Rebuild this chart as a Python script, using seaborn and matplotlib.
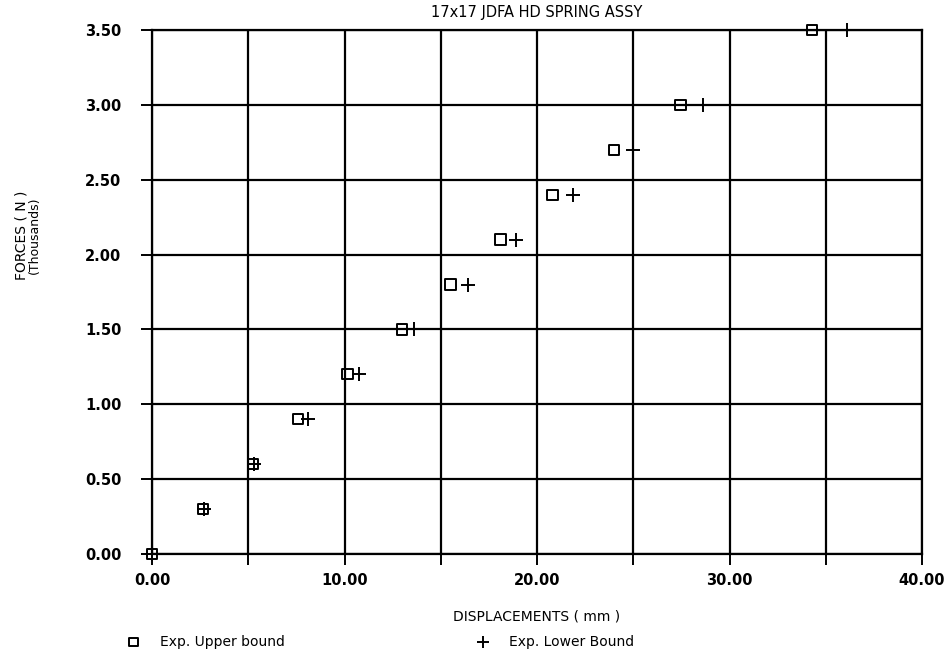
import matplotlib
matplotlib.use("Agg")
import matplotlib.pyplot as plt
import numpy as np
import pandas as pd
import seaborn as sns

# Spring force vs displacement, experimental bounds
forces = [0.0, 0.3, 0.6, 0.9, 1.2, 1.5, 1.8, 2.1, 2.4, 2.7, 3.0, 3.5]  # kN
upper_disp = [0.0, 2.65, 5.25, 7.6, 10.15, 13.0, 15.5, 18.1, 20.8, 24.0, 27.45, 34.3]
lower_disp = [0.0, 2.7, 5.3, 8.1, 10.75, 13.6, 16.4, 18.9, 21.85, 25.0, 28.6, 36.1]

x_ticks = [0, 10, 20, 30, 40]
y_ticks = [0.0, 0.5, 1.0, 1.5, 2.0, 2.5, 3.0, 3.5]

sns.set_theme(style="white")
plt.rcParams["font.family"] = ["DejaVu Sans"]
plt.rcParams["text.color"] = "black"

fig = plt.figure(figsize=(9.53, 6.55), dpi=100)
ax = fig.add_axes([152 / 953, 1 - 554 / 655, (922 - 152) / 953, (554 - 30) / 655])

up = pd.DataFrame({"disp": upper_disp, "force": forces})
lo = pd.DataFrame({"disp": lower_disp, "force": forces})

sns.scatterplot(data=up, x="disp", y="force", ax=ax, marker="s", s=55,
                facecolor="none", edgecolor="black", linewidth=1.4,
                label="Exp. Upper bound", zorder=5, clip_on=False)
sns.scatterplot(data=lo, x="disp", y="force", ax=ax, marker="+", s=110,
                color="black", linewidth=1.4,
                label="Exp. Lower Bound", zorder=5, clip_on=False)

ax.set_xlim(0, 40)
ax.set_ylim(0, 3.5)
ax.set_xticks(np.arange(0, 40.1, 5))
ax.set_xticklabels([f"{v:.2f}" if v in x_ticks else "" for v in np.arange(0, 40.1, 5)])
ax.set_yticks(y_ticks)
ax.set_yticklabels([f"{v:.2f}" for v in y_ticks])
ax.grid(True, color="black", linewidth=1.6)
for sp in ax.spines.values():
    sp.set_color("black")
    sp.set_linewidth(1.6)
ax.tick_params(axis="both", direction="out", length=8, width=1.4, color="black",
               labelsize=10.5, labelcolor="black", bottom=True, left=True)
ax.tick_params(axis="x", pad=6)
ax.tick_params(axis="y", pad=14)
for lab in ax.get_xticklabels() + ax.get_yticklabels():
    lab.set_fontweight("bold")

ax.set_xlabel("")
ax.set_ylabel("")
ax.set_title("17x17 JDFA HD SPRING ASSY", fontsize=10.5, color="black", pad=9)

fig.text(537 / 953, 1 - 616 / 655, "DISPLACEMENTS ( mm )", ha="center", va="center",
         fontsize=10, color="black")
fig.text(22 / 953, 1 - 235 / 655, "FORCES ( N )", rotation=90, ha="center", va="center",
         fontsize=10, color="black")
fig.text(34 / 953, 1 - 235 / 655, "(Thousands)", rotation=90, ha="center", va="center",
         fontsize=9, color="black")

ax.legend_.remove()
handles, labels = ax.get_legend_handles_labels()
leg = fig.legend(handles, labels, loc="center left", bbox_to_anchor=(107 / 953, 1 - 642 / 655),
                 ncol=2, frameon=False, fontsize=10, columnspacing=13.25, handletextpad=0.9,
                 markerscale=0.8)
for t in leg.get_texts():
    t.set_color("black")

fig.savefig("out.png", dpi=100)
